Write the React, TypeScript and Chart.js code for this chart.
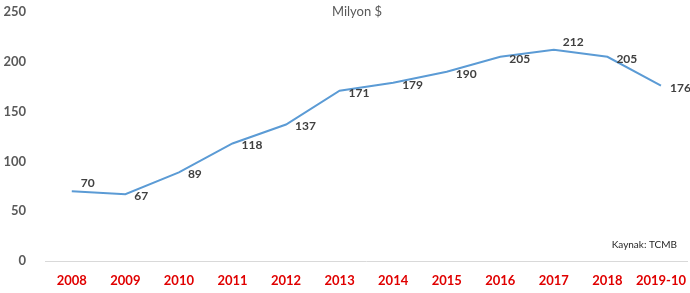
import React, { useEffect, useRef } from "react";
import { Chart, registerables } from "chart.js";

Chart.register(...registerables);

const categories = ["2008", "2009", "2010", "2011", "2012", "2013", "2014", "2015", "2016", "2017", "2018", "2019-10"];
const values = [70, 67, 89, 118, 137, 171, 179, 190, 205, 212, 205, 176];
const yTicks = [0, 50, 100, 150, 200, 250];
const subtitle = "Milyon $";
const sourceNote = "Kaynak: TCMB";

const FONT = "Lato, 'Open Sans', sans-serif";

const labelPlugin = {
  id: "valueLabels",
  afterDatasetsDraw(chart: any) {
    const { ctx } = chart;
    const meta = chart.getDatasetMeta(0);
    const data = chart.data.datasets[0].data as number[];
    ctx.save();
    ctx.font = `bold 12px ${FONT}`;
    ctx.fillStyle = "#404040";
    ctx.textAlign = "left";
    ctx.textBaseline = "middle";
    meta.data.forEach((pt: any, i: number) => {
      const prev = i > 0 ? data[i - 1] : -Infinity;
      const next = i < data.length - 1 ? data[i + 1] : -Infinity;
      const peak = data[i] > prev && data[i] > next;
      const dy = peak ? -8 : 2;
      ctx.fillText(String(data[i]), pt.x + 9, pt.y + dy);
    });
    ctx.restore();
  },
  afterDraw(chart: any) {
    const { ctx } = chart;
    ctx.save();
    ctx.font = `13px ${FONT}`;
    ctx.fillStyle = "#595959";
    ctx.textAlign = "center";
    ctx.textBaseline = "middle";
    ctx.fillText(subtitle, 357, 12);
    ctx.font = `10px ${FONT}`;
    ctx.fillStyle = "#262626";
    ctx.textAlign = "right";
    ctx.fillText(sourceNote, 677, 245);
    ctx.restore();
  },
};

export default function App() {
  const ref = useRef<HTMLCanvasElement>(null);
  useEffect(() => {
    if (!ref.current) return;
    const chart = new Chart(ref.current, {
      type: "line",
      data: {
        labels: categories,
        datasets: [
          {
            data: values,
            borderColor: "#5b9bd5",
            borderWidth: 2,
            pointRadius: 0,
            tension: 0,
            fill: false,
          },
        ],
      },
      options: {
        animation: false,
        responsive: false,
        maintainAspectRatio: false,
        layout: { padding: { top: 12, right: 0, left: 0, bottom: 0 } },
        plugins: { legend: { display: false }, tooltip: { enabled: false }, title: { display: false } },
        scales: {
          x: {
            offset: true,
            grid: { display: false },
            border: { display: true, color: "#d9d9d9", width: 1 },
            ticks: {
              color: "#e00000",
              font: { family: FONT, size: 13, weight: "bold" },
              padding: 4,
              maxRotation: 0,
              autoSkip: false,
            },
            afterFit(scale: any) {
              scale.height = 32;
            },
          },
          y: {
            min: 0,
            max: 250,
            afterBuildTicks(scale: any) {
              scale.ticks = yTicks.map((v) => ({ value: v }));
            },
            grid: { display: false },
            border: { display: false },
            ticks: {
              color: "#595959",
              font: { family: FONT, size: 13, weight: "bold" },
              padding: 11,
            },
            afterFit(scale: any) {
              scale.width = 45;
              scale.paddingTop = 0;
              scale.paddingBottom = 0;
            },
          },
        },
      },
      plugins: [labelPlugin],
    });
    return () => chart.destroy();
  }, []);
  return (
    <div style={{ position: "fixed", left: 0, top: 0, width: 690, height: 293, background: "#fff" }}>
      <canvas ref={ref} width={690} height={293} style={{ width: 690, height: 293 }} />
    </div>
  );
}
